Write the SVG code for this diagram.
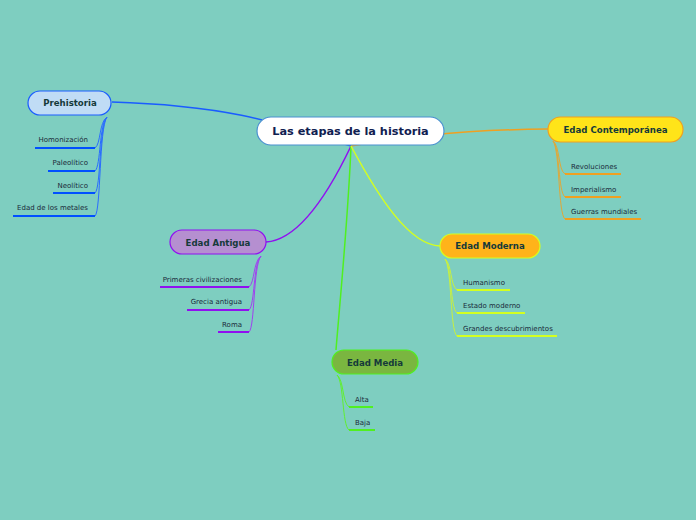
<svg xmlns="http://www.w3.org/2000/svg" width="696" height="520" viewBox="0 0 696 520">
<style>
.bg{fill:#7ecec0}
.main{fill:none;stroke-width:1.5}
.br{fill:none;stroke-width:1}
.ul{fill:none;stroke-width:2}
.node{stroke-width:1.2}
.lbl{font-family:"DejaVu Sans",Verdana,sans-serif;font-weight:bold;font-size:8.6px;fill:#153a3a;text-anchor:middle}
.sub{font-family:"DejaVu Sans",Verdana,sans-serif;font-size:7px;fill:#1a2a3a}
.r{text-anchor:end}
</style>
<rect class="bg" x="0" y="0" width="696" height="520"/>
<g id="connectors">
<path class="main" stroke="#1a5cff" d="M351,146 C300,132 250,106 112,102"/>
<path class="main" stroke="#f0a020" d="M351,146 C400,138 450,130 548,129"/>
<path class="main" stroke="#9010f0" d="M351,146 C330,190 300,240 266,242"/>
<path class="main" stroke="#50f020" d="M351,146 C348,220 340,300 336,350"/>
<path class="main" stroke="#d4ff20" d="M351,146 C380,200 410,245 440,246"/>
<g stroke="#2a6cff">
<path class="br" d="M107,117 C99,122 101,144 95,148"/>
<path class="br" d="M107,117 C99,124 101,166 95,171"/>
<path class="br" d="M107,117 C99,126 101,188 95,193"/>
<path class="br" d="M107,117 C99,128 101,211 95,216"/>
</g>
<g stroke="#e0a838">
<path class="br" d="M553,141 C560,146 558,170 565,174"/>
<path class="br" d="M553,141 C560,148 558,192 565,197"/>
<path class="br" d="M553,141 C560,150 558,214 565,219"/>
</g>
<g stroke="#a040f0">
<path class="br" d="M261,256 C253,262 255,282 249,287"/>
<path class="br" d="M261,256 C253,264 255,305 249,310"/>
<path class="br" d="M261,256 C253,266 255,327 249,332"/>
</g>
<g stroke="#c8f040">
<path class="br" d="M445,259 C452,264 450,285 457,290"/>
<path class="br" d="M445,259 C452,266 450,308 457,313"/>
<path class="br" d="M445,259 C452,268 450,331 457,336"/>
</g>
<g stroke="#60f030">
<path class="br" d="M337,375 C344,380 342,402 349,407"/>
<path class="br" d="M337,375 C344,382 342,425 349,430"/>
</g>
<g stroke="#0050ff">
<path class="ul" d="M35,148 H95"/>
<path class="ul" d="M48,171 H95"/>
<path class="ul" d="M53,193 H95"/>
<path class="ul" d="M13,216 H95"/>
</g>
<g stroke="#f0a020">
<path class="ul" d="M565,174 H621"/>
<path class="ul" d="M565,197 H621"/>
<path class="ul" d="M565,219 H641"/>
</g>
<g stroke="#9010f0">
<path class="ul" d="M160,287 H249"/>
<path class="ul" d="M187,310 H249"/>
<path class="ul" d="M218,332 H249"/>
</g>
<g stroke="#d4ff20">
<path class="ul" d="M457,290 H510"/>
<path class="ul" d="M457,313 H525"/>
<path class="ul" d="M457,336 H557"/>
</g>
<g stroke="#50f020">
<path class="ul" d="M349,407 H373"/>
<path class="ul" d="M349,430 H375"/>
</g>
</g>
<g id="center">
<rect class="node" x="257" y="117" width="187" height="28" rx="14" fill="#ffffff" stroke="#4a90d0"/>
<text x="350.5" y="135" font-family="DejaVu Sans,Verdana,sans-serif" font-weight="bold" font-size="11.3" fill="#102050" text-anchor="middle">Las etapas de la historia</text>
</g>
<g id="prehistoria">
<rect class="node" x="28" y="91" width="83" height="24" rx="12" fill="#c0dcf5" stroke="#1a5cff"/>
<text class="lbl" x="70" y="106">Prehistoria</text>
<text class="sub r" x="88" y="142">Homonización</text>
<text class="sub r" x="88" y="165">Paleolítico</text>
<text class="sub r" x="88" y="188">Neolítico</text>
<text class="sub r" x="88" y="210">Edad de los metales</text>
</g>
<g id="contemporanea">
<rect class="node" x="548" y="117" width="135" height="25" rx="12.5" fill="#ffe419" stroke="#f0a020"/>
<text class="lbl" x="615.5" y="133">Edad Contemporánea</text>
<text class="sub" x="571" y="169">Revoluciones</text>
<text class="sub" x="571" y="192">Imperialismo</text>
<text class="sub" x="571" y="214">Guerras mundiales</text>
</g>
<g id="antigua">
<rect class="node" x="170" y="230" width="96" height="24" rx="12" fill="#b58fd0" stroke="#9010f0"/>
<text class="lbl" x="218" y="246">Edad Antigua</text>
<text class="sub r" x="242" y="282">Primeras civilizaciones</text>
<text class="sub r" x="242" y="304">Grecia antigua</text>
<text class="sub r" x="242" y="327">Roma</text>
</g>
<g id="moderna">
<rect class="node" x="440" y="234" width="100" height="24" rx="12" fill="#ffb31a" stroke="#d4ff20"/>
<text class="lbl" x="490" y="249">Edad Moderna</text>
<text class="sub" x="463" y="285">Humanismo</text>
<text class="sub" x="463" y="308">Estado moderno</text>
<text class="sub" x="463" y="331">Grandes descubrimientos</text>
</g>
<g id="media">
<rect class="node" x="332" y="350" width="86" height="24" rx="12" fill="#7ab640" stroke="#50f020"/>
<text class="lbl" x="375" y="366">Edad Media</text>
<text class="sub" x="355" y="402">Alta</text>
<text class="sub" x="355" y="425">Baja</text>
</g>
</svg>
